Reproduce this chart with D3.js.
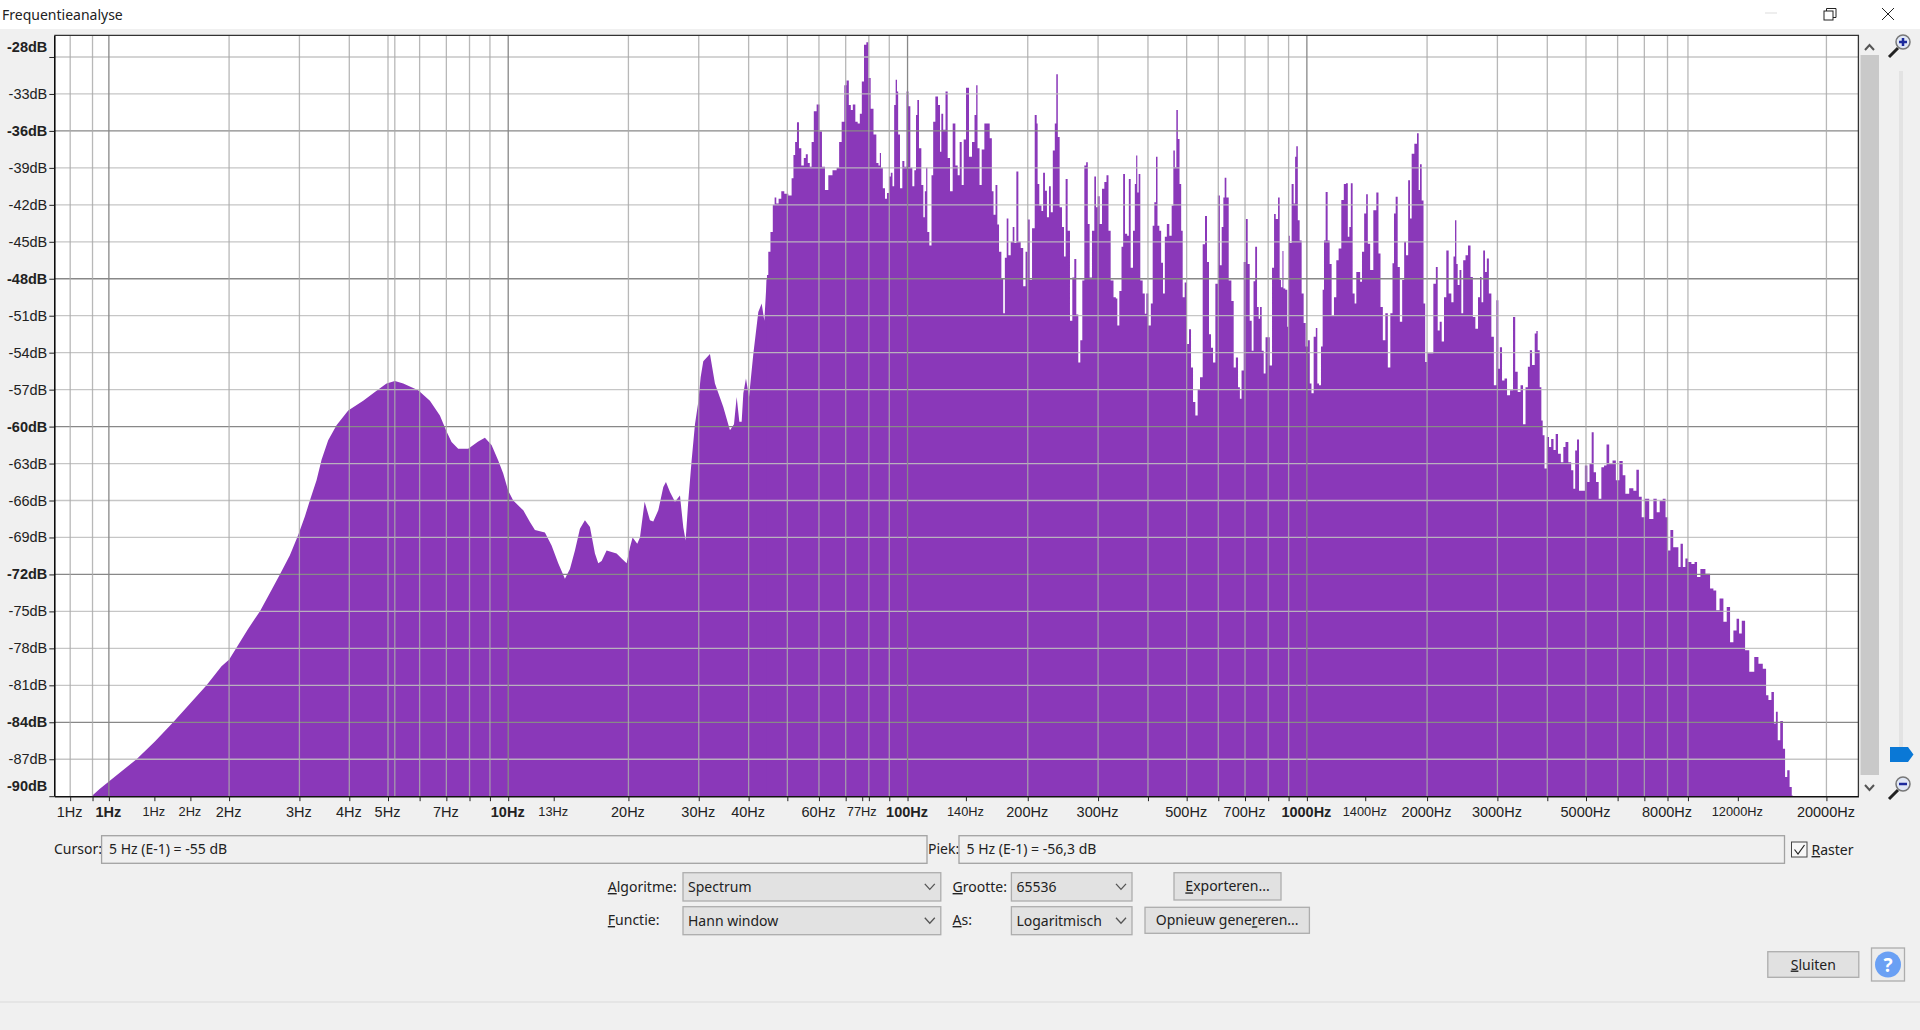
<!DOCTYPE html>
<html>
<head>
<meta charset="utf-8">
<title>Frequentieanalyse</title>
<script src="https://cdn.jsdelivr.net/npm/d3@7"></script>
<style>
  html, body { margin: 0; padding: 0; background: #f0f0f0; overflow: hidden; }
  svg { display: block; }
  .ui { font-family: "Noto Sans", sans-serif; font-size: 14px; fill: #222; }
  .axis text { font-family: "Liberation Sans", Arial, sans-serif; fill: #222; }
</style>
</head>
<body>
<svg id="chart" width="1920" height="1030"></svg>
<script>
// dB axis
const dbTicks = [-30, -33, -36, -39, -42, -45, -48, -51, -54, -57, -60, -63, -66, -69, -72, -75, -78, -81, -84, -87, -90];
const dbLabels = ['-28dB', '-33dB', '-36dB', '-39dB', '-42dB', '-45dB', '-48dB', '-51dB', '-54dB', '-57dB', '-60dB', '-63dB', '-66dB', '-69dB', '-72dB', '-75dB', '-78dB', '-81dB', '-84dB', '-87dB', '-90dB'];
const dbBold = [-30, -36, -48, -60, -72, -84, -90];
const dbMajorGrid = [-36, -48, -60, -72, -84];

// frequency axis
const hzGrid = [0.8, 0.91, 1, 2, 3, 4, 5, 6, 7, 8, 9, 10, 20, 30, 40, 50, 60, 70, 80, 90, 100, 200, 300, 400, 500, 600, 700, 800, 900, 1000, 2000, 3000, 4000, 5000, 6000, 7000, 8000, 9000, 20000];
const hzMajorGrid = [1, 10, 100, 1000];
const hzTicks = [0.8, 0.91, 1, 1.3, 1.6, 2, 3, 4, 5, 6, 7, 8, 9, 10, 13, 20, 30, 40, 50, 60, 70, 77, 80, 90, 100, 140, 200, 300, 400, 500, 600, 700, 800, 900, 1000, 1400, 2000, 3000, 4000, 5000, 6000, 7000, 8000, 9000, 12000, 20000];
const hzLabels = {0.8: '1Hz', 1: '1Hz', 1.3: '1Hz', 1.6: '2Hz', 2: '2Hz', 3: '3Hz', 4: '4Hz', 5: '5Hz', 7: '7Hz', 10: '10Hz', 13: '13Hz', 20: '20Hz', 30: '30Hz', 40: '40Hz', 60: '60Hz', 77: '77Hz', 100: '100Hz', 140: '140Hz', 200: '200Hz', 300: '300Hz', 500: '500Hz', 700: '700Hz', 1000: '1000Hz', 1400: '1400Hz', 2000: '2000Hz', 3000: '3000Hz', 5000: '5000Hz', 8000: '8000Hz', 12000: '12000Hz', 20000: '20000Hz'};
const hzSmall = [1.3, 1.6, 13, 77, 140, 1400, 12000];
const hzBold = [1, 10, 100, 1000];
const cursorHz = 5.2;

// spectrum: log10(Hz) and level in dB
const spectrumLogHz = [
  -0.0434, -0.0225, 0, 0.0693, 0.1152, 0.161, 0.2028, 0.2446, 0.2821, 0.3013, 0.328, 0.3489, 0.378, 0.4032, 0.4282, 0.4533, 0.4741, 0.4908, 0.5033, 0.52, 0.5326, 0.5492, 0.5701, 0.5993, 0.6369, 0.6703, 0.6953, 0.7162, 0.7371, 0.7746, 0.8039, 0.8289, 0.8456, 0.8581, 0.8748, 0.8998, 0.9249, 0.9416,
  0.9583, 0.975, 0.9875, 1.0, 1.0126, 1.0377, 1.0544, 1.0669, 1.0919, 1.1086, 1.1253, 1.142, 1.1546, 1.1671, 1.1796, 1.1921, 1.2047, 1.2172, 1.2255, 1.2339, 1.2464, 1.2714, 1.284, 1.2965, 1.3049, 1.3115, 1.3232, 1.3299, 1.3416, 1.3549, 1.3633, 1.3758, 1.3884, 1.395, 1.4051, 1.4176, 1.4301, 1.4385, 1.4443, 1.451, 1.4593, 1.4677, 1.476, 1.4819, 1.4885, 1.5052, 1.5177, 1.5386, 1.5553, 1.5654, 1.5721, 1.5788, 1.5846, 1.5888, 1.5954, 1.603, 1.6138, 1.6263, 1.6347, 1.6414, 1.6472,
  1.6488, 1.6538, 1.6596, 1.6655, 1.6688, 1.6738, 1.6805, 1.6872, 1.6955, 1.7072, 1.7122, 1.7164, 1.7206, 1.7256, 1.7306, 1.7373, 1.7431, 1.7473, 1.7531, 1.7573, 1.7623, 1.7682, 1.7765, 1.7824, 1.789, 1.7974, 1.8058, 1.8183, 1.8266, 1.8308, 1.8392, 1.8442, 1.85, 1.8559, 1.86, 1.8659, 1.8726, 1.8776, 1.8834, 1.8876, 1.8943, 1.8993, 1.9043, 1.911, 1.9185, 1.9252, 1.9294, 1.9318, 1.9352, 1.941, 1.946, 1.951, 1.9561, 1.9602, 1.9644, 1.9686, 1.9719, 1.9752, 1.9778, 1.9844, 1.9895, 1.9945, 2.0003, 2.0045, 2.0095, 2.0145, 2.0195, 2.0229, 2.0262, 2.0312, 2.0379, 2.0412, 2.0454, 2.0479, 2.0512, 2.0579, 2.0621, 2.0663, 2.073, 2.0796, 2.083, 2.0863, 2.0922, 2.098, 2.103, 2.1097, 2.1164, 2.1231, 2.128, 2.1331, 2.1381, 2.1431, 2.1498, 2.1581, 2.1648, 2.1706, 2.1732, 2.1773, 2.1832, 2.1882, 2.1965, 2.2024, 2.209, 2.2132, 2.2174, 2.2232, 2.2266, 2.2316, 2.2383, 2.2408, 2.2466, 2.25, 2.255, 2.2617, 2.265, 2.27, 2.275, 2.28, 2.2867, 2.2926, 2.2984, 2.3034, 2.3084, 2.3151, 2.3218,
  2.3249, 2.3266, 2.3333, 2.3374, 2.3416, 2.3466, 2.3516, 2.3567, 2.3608, 2.3667, 2.3708, 2.3742, 2.3784, 2.3834, 2.3901, 2.3934, 2.3984, 2.4034, 2.4101, 2.4151, 2.4201, 2.4251, 2.4301, 2.4351, 2.4402, 2.4452, 2.4493, 2.4535, 2.4585, 2.4652, 2.4702, 2.4736, 2.4786, 2.4836, 2.4903, 2.4953, 2.5011, 2.5053, 2.512, 2.5195, 2.5237, 2.527, 2.5337, 2.5379, 2.542, 2.547, 2.5529, 2.5554, 2.5621, 2.5671, 2.5712, 2.5737, 2.5771, 2.5804, 2.5854, 2.5921, 2.5963, 2.5997, 2.6063, 2.6122, 2.6155, 2.6205, 2.6239, 2.628, 2.633, 2.6372, 2.6422, 2.6464, 2.6522, 2.6589, 2.6639, 2.6673, 2.6714, 2.6748, 2.679, 2.6832, 2.6873, 2.6907, 2.6973, 2.7023, 2.7074, 2.7124, 2.7174, 2.724, 2.729, 2.7358, 2.7424, 2.7474, 2.7524, 2.7574, 2.7625, 2.7675, 2.7742, 2.78, 2.7842, 2.7892, 2.7925, 2.7958, 2.8009, 2.8076, 2.8142, 2.8192, 2.8251, 2.8301, 2.8343, 2.8385, 2.8451, 2.8493, 2.8543, 2.8593, 2.8643, 2.8685, 2.8727, 2.8777, 2.881, 2.8844, 2.8894, 2.8944, 2.8986, 2.9044, 2.9094, 2.9161, 2.9195, 2.9245, 2.9311,
  2.9326, 2.9376, 2.9401, 2.9426, 2.9493, 2.9526, 2.9551, 2.9593, 2.9643, 2.9693, 2.9718, 2.9752, 2.9794, 2.9844, 2.9894, 2.9944, 2.9994, 3.0052, 3.0094, 3.0136, 3.0203, 3.0245, 3.0278, 3.0328, 3.0378, 3.0412, 3.0445, 3.0495, 3.0545, 3.0595, 3.0645, 3.0712, 3.0762, 3.0829, 3.0896, 3.0954, 3.1004, 3.1046, 3.108, 3.1121, 3.1171, 3.1221, 3.1255, 3.1313, 3.1355, 3.1405, 3.1464, 3.1505, 3.1547, 3.1622, 3.1706, 3.1772, 3.1814, 3.1873, 3.1931, 3.1998, 3.2056, 3.2123, 3.2165, 3.2198, 3.2249, 3.2299, 3.2357, 3.2416, 3.2457, 3.2507, 3.2566, 3.2599, 3.2649, 3.2733, 3.2783, 3.2816, 3.285, 3.29, 3.2942, 3.2983, 3.3042, 3.3125, 3.3209, 3.3251, 3.3301, 3.3351, 3.3401, 3.3467, 3.3517, 3.3584, 3.3651, 3.3693, 3.3727, 3.376, 3.3793, 3.3852, 3.3885, 3.3944, 3.4002, 3.4069, 3.4127, 3.4186, 3.4253, 3.4319, 3.4353, 3.4395, 3.4436, 3.4486, 3.4528, 3.4587, 3.4653, 3.4712, 3.4778, 3.4812, 3.4854, 3.492, 3.4979, 3.5046, 3.5129, 3.5196, 3.5238, 3.5321, 3.538, 3.5446, 3.5505, 3.5563, 3.5605, 3.5672, 3.5739,
  3.5755, 3.5805, 3.5855, 3.5888, 3.5922, 3.598, 3.6038, 3.6089, 3.6147, 3.6205, 3.6256, 3.6322, 3.6397, 3.6447, 3.6506, 3.6589, 3.6648, 3.6698, 3.674, 3.679, 3.684, 3.6924, 3.6999, 3.7049, 3.7107, 3.7157, 3.7207, 3.7274, 3.734, 3.7408, 3.7475, 3.7533, 3.7608, 3.77, 3.7775, 3.7875, 3.7942, 3.8009, 3.8134, 3.8218, 3.8285, 3.8343, 3.8427, 3.851, 3.8635, 3.8719, 3.8802, 3.8869, 3.8953, 3.9011, 3.9078, 3.9128, 3.922, 3.9278, 3.9328, 3.9387, 3.9445, 3.9512, 3.9579, 3.9679, 3.9737, 3.9804, 3.9905, 4.0055, 4.0138, 4.0222, 4.028, 4.0389, 4.0472, 4.0556, 4.0639, 4.0723, 4.0798, 4.0848, 4.0932, 4.1015, 4.1141, 4.1266, 4.135, 4.1483, 4.1516, 4.16, 4.1666, 4.1725, 4.1766, 4.1816, 4.1892, 4.195, 4.2, 4.2059, 4.2117, 4.2167
];
const spectrumDb = [
  -90, -89.4, -88.8, -87, -85.57, -84, -82.5, -81, -79.45, -78.9, -77.5, -76.4, -75, -73.5, -72, -70.45, -68.8, -67.3, -66, -64.35, -62.7, -61.1, -59.9, -58.7, -57.9, -57.1, -56.5, -56.3, -56.5, -57.05, -57.9, -59.1, -60.4, -61.25, -61.8, -61.8, -61.2, -60.9,
  -61.5, -62.75, -63.8, -65.2, -66, -66.8, -67.75, -68.4, -68.6, -69.65, -71.1, -72.35, -71.55, -70.05, -68.3, -67.6, -68.15, -70.3, -71.1, -70.9, -70.05, -70.3, -70.7, -71.1, -69.8, -69, -69.5, -69, -66.1, -67.6, -67.7, -66.8, -64.9, -64.5, -65.3, -66.1, -65.6, -68.2, -69.25, -66, -62.75, -59.8, -58, -56, -54.7, -54.1, -56.5, -58.4, -60.3, -59.8, -57.6, -59.6, -59.6, -57.3, -56.1, -57.6, -54.1, -50.7, -50, -51.4, -48.1,
  -47.7, -45.8, -44.2, -42, -41.4, -41.9, -41.5, -40.9, -41.1, -41.25, -39.85, -37.95, -36.9, -35.3, -37.4, -38.8, -38.2, -37.9, -38.6, -38.9, -36.9, -34.4, -33.85, -36.05, -38.9, -40.8, -39.6, -39.2, -39, -36.9, -35.25, -32.3, -31.9, -33.9, -34.3, -33.85, -35.25, -35.4, -34.6, -32, -29, -28.8, -31.7, -34.2, -36.3, -38.6, -38.8, -37.8, -39, -40.65, -41.5, -41.05, -39.7, -39.4, -40.5, -33.9, -31.85, -32.8, -36.3, -40.65, -38.45, -38.9, -32.8, -34, -39, -40.5, -39.2, -34.7, -33.5, -37.4, -40.4, -43, -40.9, -39, -44.2, -45.3, -39.6, -35.25, -33.2, -33.9, -37.7, -34.6, -35.9, -32.8, -38.2, -40.9, -35.4, -38.8, -39.6, -36.9, -40.4, -36.7, -32.5, -38.1, -36.9, -34.7, -32.3, -37.4, -40.4, -37.5, -35.4, -35.4, -36.6, -40.9, -42.8, -40.4, -43.6, -45.8, -48, -50.8, -46.3, -43.1, -46.1, -45, -43.8, -45.1, -39.3, -45, -45.5, -48.6, -45.8, -43.2, -48.1, -43.9, -34.7,
  -35.4, -40.3, -42.05, -42.5, -39.4, -40.85, -43, -40.5, -42.6, -37.6, -35.4, -31.4, -36.5, -42.2, -43.8, -46.2, -39.9, -44.1, -51.4, -47.9, -46.4, -50.9, -54.8, -53, -48.15, -38.8, -38.55, -43.55, -47.9, -44.1, -39.7, -42.2, -41.3, -43.55, -40.7, -40.15, -39.6, -44.1, -48.15, -49.5, -49.6, -51.8, -49, -45.4, -39.5, -44.35, -44.5, -39.9, -47.1, -44.1, -40.3, -38, -41, -39.5, -48.15, -49.2, -50.85, -49.2, -51.8, -50, -43.7, -41.8, -38.1, -43.7, -44.1, -46.7, -49.2, -44.6, -43.55, -44.5, -42.05, -37.6, -38.95, -34.3, -36.65, -40.3, -44.1, -49.5, -48.3, -53.3, -52.1, -55.2, -58, -59.1, -56.95, -56, -45.2, -42.9, -46.65, -52.5, -53.6, -54.8, -48.4, -41.25, -46.9, -43.8, -41.4, -39.8, -41.4, -48.15, -49.8, -55.2, -54.4, -56.8, -57.75, -55.45, -46.65, -43.15, -46.8, -51.4, -53.85, -48.2, -45.4, -50.3, -51.25, -50.3, -53.85, -55.7, -52.75, -52.75, -55.05, -47.1, -42.75, -43.15, -41.4,
  -48.1, -48.7, -45.75, -48.8, -48.9, -51.9, -44.5, -45.1, -40.3, -41.9, -38.1, -37.25, -43.25, -44.9, -49.2, -51.6, -53.5, -53, -56.5, -57.3, -52.7, -52, -56.5, -56.65, -53.5, -48.9, -44.9, -40.95, -44.9, -46.8, -51, -49.5, -46.5, -45.55, -41.6, -40.3, -40.25, -44.6, -43.8, -40.25, -49.2, -50, -47.45, -47.45, -48.25, -45.8, -42.7, -41.15, -45.15, -47.3, -42.45, -41, -45.95, -50.3, -53, -50.8, -55.2, -50.8, -46.75, -42.7, -41.35, -47.05, -51.5, -48.1, -45, -46.1, -40, -43.1, -37.85, -37.05, -36.2, -40.8, -38.7, -41.65, -50, -54.75, -54.05, -54.05, -48.4, -47.05, -52.2, -51.5, -53.1, -49.5, -45.7, -49.2, -49.9, -46.2, -43.25, -46.8, -48.5, -47.3, -50.8, -46.5, -46.1, -45.3, -47.85, -51.1, -52.05, -49.5, -47.85, -49.9, -45.7, -47.45, -46.35, -49.2, -52.7, -56.65, -49.75, -55.3, -53.55, -56.25, -56.1, -57.45, -57.05, -51.1, -55.55, -57.2, -56.65, -59.8, -56.8, -55.15, -53.8, -55, -52.45,
  -52.25, -53.8, -56.8, -59.5, -60.7, -63.4, -60.85, -61.65, -61, -61.9, -60.6, -62.2, -62.9, -61.65, -61.25, -62.9, -63.55, -65.05, -61.95, -61.05, -65.2, -65.2, -63.15, -64.5, -63, -60.45, -63.7, -64.5, -65.85, -63.3, -63.15, -61.45, -63, -62.75, -64.35, -62.8, -63.95, -65.45, -65, -65.2, -63.5, -65.7, -67.35, -65.85, -67.5, -65.85, -66.95, -66, -65.85, -67.35, -70.05, -68.4, -69.8, -69.8, -71.4, -69.5, -71.4, -70.7, -71, -71.15, -71, -72.2, -71.55, -71.95, -73.15, -73.3, -74.9, -73.95, -75.85, -74.65, -77.5, -76.55, -75.6, -76.8, -75.75, -78.15, -79.9, -78.7, -79.25, -79.65, -81.8, -82.2, -81.55, -84.1, -83.15, -85.45, -83.9, -86.15, -88.45, -87.9, -89.25, -89.95
];
// below this the curve is smooth, above it the spectrum is spiky columns
const spikyFromHz = 44;

// dialog strings
const titleText = 'Frequentieanalyse';
const cursorText = '5 Hz (E-1) = -55 dB';
const peakText = '5 Hz (E-1) = -56,3 dB';

const svg = d3.select('#chart');
const plot = { left: 54.3, right: 1858.4, top: 35.3, bottom: 796.2 };

const x = d3.scaleLog().domain([0.73, 24050]).range([plot.left, plot.right]);
const y = d3.scaleLinear().domain([-90, -28.24]).range([plot.bottom, plot.top]);

const spectrum = spectrumLogHz.map((v, i) => ({ hz: Math.pow(10, v), db: spectrumDb[i] }));

// --- window chrome ---
svg.append('rect').attr('width', 1920).attr('height', 29).attr('fill', '#fff');
svg.append('text').attr('class', 'ui').attr('x', 2).attr('y', 20).text(titleText);
svg.append('line').attr('x1', 1765).attr('x2', 1777).attr('y1', 13).attr('y2', 13).attr('stroke', '#ddd');
svg.append('rect').attr('x', 1824).attr('y', 11).attr('width', 9).attr('height', 9).attr('fill', '#fff').attr('stroke', '#222');
svg.append('path').attr('d', 'M1826.5 11 V8.5 H1836 V17.5 H1833').attr('fill', 'none').attr('stroke', '#222');
svg.append('path').attr('d', 'M1882 8 L1894 20 M1894 8 L1882 20').attr('stroke', '#222').attr('fill', 'none');

// --- plot ---
svg.append('rect').attr('x', plot.left).attr('y', plot.top)
  .attr('width', plot.right - plot.left).attr('height', plot.bottom - plot.top).attr('fill', '#fff');

const smoothArea = d3.area().x(d => x(d.hz)).y0(plot.bottom).y1(d => y(d.db));
const spikyArea = d3.area().curve(d3.curveStep).x(d => x(d.hz)).y0(plot.bottom).y1(d => y(d.db));

// the two paths overlap a little so no seam shows between them
svg.append('path').datum(spectrum.filter(d => d.hz <= spikyFromHz + 1))
  .attr('d', smoothArea).attr('fill', '#8a38b9');
svg.append('path').datum(spectrum.filter(d => d.hz >= spikyFromHz))
  .attr('d', spikyArea).attr('fill', '#8a38b9');

// grid goes over the spectrum, as in the original
const grid = svg.append('g');
grid.selectAll('.h').data(dbTicks.slice(0, -1)).enter().append('line')
  .attr('x1', plot.left).attr('x2', plot.right)
  .attr('y1', d => y(d)).attr('y2', d => y(d))
  .attr('stroke', d => dbMajorGrid.includes(d) ? '#888' : '#bfbfbf')
  .attr('stroke-opacity', d => dbMajorGrid.includes(d) ? 1 : 0.89)
  .attr('stroke-width', 1.3);
grid.selectAll('.v').data(hzGrid).enter().append('line')
  .attr('x1', d => x(d)).attr('x2', d => x(d))
  .attr('y1', plot.top).attr('y2', plot.bottom)
  .attr('stroke', d => hzMajorGrid.includes(d) ? '#888' : '#aaa')
  .attr('stroke-opacity', d => hzMajorGrid.includes(d) ? 1 : 0.84)
  .attr('stroke-width', 1.3);
grid.append('line')
  .attr('x1', x(cursorHz)).attr('x2', x(cursorHz))
  .attr('y1', plot.top).attr('y2', plot.bottom)
  .attr('stroke', '#aaa').attr('stroke-opacity', 0.84).attr('stroke-width', 1.3);

svg.append('path')
  .attr('d', `M${plot.left} ${plot.top} H${plot.right} V${plot.bottom}`)
  .attr('fill', 'none').attr('stroke', '#333').attr('stroke-width', 1.3);

// --- axes ---
const yAxis = d3.axisLeft(y).tickValues(dbTicks).tickSize(5).tickSizeOuter(0)
  .tickFormat((d, i) => dbLabels[i]);
const yG = svg.append('g').attr('class', 'axis')
  .attr('transform', `translate(${plot.left},0)`).call(yAxis);
yG.select('.domain').attr('stroke', '#000').attr('stroke-width', 1.5);
yG.selectAll('.tick line').attr('stroke', '#222');
yG.selectAll('.tick text')
  .attr('x', -7)
  .attr('dy', d => d === -30 ? -5.5 : d === -90 ? -5.5 : 4.5)
  .style('font-size', '14.5px')
  .style('font-weight', d => dbBold.includes(d) ? 'bold' : 'normal');

const xAxis = d3.axisBottom(x).tickValues(hzTicks).tickSize(5).tickSizeOuter(0)
  .tickFormat(d => hzLabels[d] || '');
const xG = svg.append('g').attr('class', 'axis')
  .attr('transform', `translate(0,${plot.bottom})`).call(xAxis);
xG.select('.domain').attr('stroke', '#111').attr('stroke-width', 1.5);
xG.selectAll('.tick line').attr('stroke', '#222');
xG.selectAll('.tick text')
  .attr('y', 11).attr('dy', '0.71em').attr('dx', -1)
  .style('font-size', d => hzSmall.includes(d) ? '12.8px' : '14.5px')
  .style('font-weight', d => hzBold.includes(d) ? 'bold' : 'normal');

// --- scrollbar and zoom slider ---
svg.append('rect').attr('x', 1860.5).attr('y', 55).attr('width', 18.5).attr('height', 720).attr('fill', '#c9c9c9');
svg.append('path').attr('d', 'M1865 50 L1869.5 45 L1874 50').attr('fill', 'none').attr('stroke', '#555').attr('stroke-width', 2);
svg.append('path').attr('d', 'M1865 785 L1869.5 790 L1874 785').attr('fill', 'none').attr('stroke', '#555').attr('stroke-width', 2);
svg.append('rect').attr('x', 1899).attr('y', 71).attr('width', 4).attr('height', 676).attr('fill', '#e3e3e3');
svg.append('path').attr('d', 'M1890 747 H1908 L1913.5 754.5 L1908 762 H1890 Z').attr('fill', '#0a78d6');

function magnifier(cx, cy, plus) {
  const g = svg.append('g').attr('transform', `translate(${cx},${cy})`);
  g.append('line').attr('x1', -11).attr('y1', 12).attr('x2', -2).attr('y2', 3).attr('stroke', '#222').attr('stroke-width', 3);
  g.append('circle').attr('cx', 3).attr('cy', -3).attr('r', 7).attr('fill', '#dfe6f5').attr('stroke', '#777').attr('stroke-width', 1.5);
  const mark = plus ? 'M-1 -3 H7 M3 -7 V1' : 'M-1 -3 H7';
  g.append('path').attr('d', mark).attr('stroke', '#1c2a9c').attr('stroke-width', 2.5);
}
magnifier(1900, 45, true);
magnifier(1900, 787, false);

// --- dialog controls ---
function label(px, py, parts, anchor) {
  const t = svg.append('text').attr('class', 'ui').attr('x', px).attr('y', py)
    .attr('text-anchor', anchor || 'start');
  parts.forEach(p => {
    const s = t.append('tspan').text(p.replace('_', ''));
    if (p.startsWith('_')) s.style('text-decoration', 'underline');
  });
  return t;
}

function field(x0, x1, y0, y1, text, textX) {
  svg.append('rect').attr('x', x0).attr('y', y0).attr('width', x1 - x0).attr('height', y1 - y0)
    .attr('fill', '#f0f0f0').attr('stroke', '#a2a2a2').attr('stroke-width', 1.3);
  label(textX, y0 + 18.5, [text]);
}

function dropdown(x0, x1, y0, y1, text) {
  svg.append('rect').attr('x', x0).attr('y', y0).attr('width', x1 - x0).attr('height', y1 - y0)
    .attr('fill', '#e2e2e2').attr('stroke', '#adadad').attr('stroke-width', 1.3);
  label(x0 + 5, y0 + 19.5, [text]);
  const cx = x1 - 11, cy = (y0 + y1) / 2;
  svg.append('path').attr('d', `M${cx - 5} ${cy - 3} L${cx} ${cy + 2.5} L${cx + 5} ${cy - 3}`)
    .attr('fill', 'none').attr('stroke', '#555').attr('stroke-width', 1.3);
}

function button(x0, x1, y0, y1, parts) {
  svg.append('rect').attr('x', x0).attr('y', y0).attr('width', x1 - x0).attr('height', y1 - y0)
    .attr('fill', '#e1e1e1').attr('stroke', '#adadad').attr('stroke-width', 1.3);
  label((x0 + x1) / 2, (y0 + y1) / 2 + 5, parts, 'middle');
}

label(54, 854, ['Cursor:']);
field(101.6, 927, 835.7, 863.3, cursorText, 109);
label(928, 854, ['Piek:']);
field(959, 1784.5, 835.7, 863.3, peakText, 966.5);

svg.append('rect').attr('x', 1791.5).attr('y', 842).attr('width', 15.5).attr('height', 15)
  .attr('fill', '#f7f7f7').attr('stroke', '#444');
svg.append('path').attr('d', 'M1794.5 849.5 L1798 854 L1804.5 845').attr('fill', 'none').attr('stroke', '#222').attr('stroke-width', 1.2);
label(1811.5, 855, ['_R', 'aster']);

label(607.8, 892, ['_A', 'lgoritme:']);
dropdown(683, 940.8, 872.7, 901, 'Spectrum');
label(952.6, 892, ['_G', 'rootte:']);
dropdown(1011.4, 1132, 872.7, 901, '65536');
button(1174, 1281, 872.7, 900, ['_E', 'xporteren...']);

label(607.8, 925, ['_F', 'unctie:']);
dropdown(683, 940.8, 906.7, 934.7, 'Hann window');
label(952.6, 925, ['_A', 's:']);
dropdown(1011.4, 1132, 906.7, 934.7, 'Logaritmisch');
button(1145, 1309.4, 907.3, 933.3, ['Opnieuw gene', '_r', 'eren...']);

button(1767.8, 1858.8, 951.7, 977.3, ['_S', 'luiten']);
svg.append('rect').attr('x', 1871.5).attr('y', 948).attr('width', 33).attr('height', 33)
  .attr('fill', '#ececec').attr('stroke', '#adadad').attr('stroke-width', 1.3);
svg.append('circle').attr('cx', 1888).attr('cy', 964.5).attr('r', 13).attr('fill', '#6aa0f4');
svg.append('text').attr('x', 1888).attr('y', 971.5).attr('text-anchor', 'middle')
  .style('font-family', '"Noto Sans", sans-serif').style('font-size', '19px').style('font-weight', 'bold')
  .attr('fill', '#fff').text('?');

svg.append('line').attr('x1', 0).attr('x2', 1920).attr('y1', 1002).attr('y2', 1002).attr('stroke', '#e2e2e2').attr('stroke-width', 1.5);
</script>
</body>
</html>
